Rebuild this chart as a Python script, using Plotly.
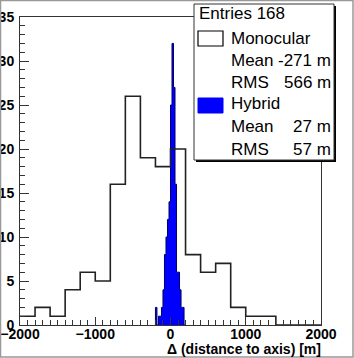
import numpy as np
import plotly.graph_objects as go

# monocular histogram, 200 m bins from -2000 to 2000
mono_edges_start = -2000
mono_width = 200
mono_counts = [1, 2, 1, 4, 6, 5, 16, 26, 19, 18,
               20, 8, 6, 7, 2, 1, 1, 0, 0, 0]

# hybrid histogram, 20 m bins from -200 to 200
hyb_edges_start = -200
hyb_width = 20
hyb_counts = [2, 0, 1, 1, 2, 4, 8, 10, 12, 14,
              25, 32, 27, 16, 6, 6, 4, 2, 2, 0]

legend_lines = [
    ("Entries 168", None),
    ("Monocular", None),
    ("Mean", "-271 m"),
    ("RMS", "566 m"),
    ("Hybrid", None),
    ("Mean", "27 m"),
    ("RMS", "57 m"),
]

x_title = "\u0394 (distance to axis) [m]"

W, H = 354, 358
L, R, T, B = 20, 321, 17, 325  # plot area in pixels


def px(x):
    return (x - L) / (R - L)


def py(y):
    return (B - y) / (B - T)


fig = go.Figure()

# hybrid: filled step histogram
hx = hyb_edges_start + hyb_width * np.arange(len(hyb_counts) + 1)
hx = np.concatenate([[hx[0]], hx])
hy = [0] + list(hyb_counts) + [0]
fig.add_trace(go.Scatter(
    x=hx, y=hy, mode="lines", line_shape="hv",
    fill="tozeroy", fillcolor="#0000ff",
    line=dict(color="#000066", width=1), hoverinfo="skip"))

# monocular: outline step histogram
mx = mono_edges_start + mono_width * np.arange(len(mono_counts) + 1)
my = list(mono_counts) + [mono_counts[-1]]
fig.add_trace(go.Scatter(
    x=mx, y=my, mode="lines", line_shape="hv",
    line=dict(color="#222222", width=1.6), hoverinfo="skip"))

font_tick = dict(family="Liberation Sans, Arial", size=14, color="black", weight="bold")

fig.update_xaxes(
    range=[-2000, 2000], showgrid=False, zeroline=False, automargin=False,
    showline=True, linecolor="#333333", linewidth=1, mirror=True,
    ticks="inside", dtick=1000, tick0=0, ticklen=8, tickcolor="#333333",
    minor=dict(dtick=100, ticklen=5, ticks="inside", tickcolor="#333333"),
    tickfont=font_tick, ticklabelstandoff=-4,
)
fig.update_yaxes(
    range=[0, 35], showgrid=False, zeroline=False, automargin=False,
    showline=True, linecolor="#333333", linewidth=1, mirror=True,
    ticks="inside", dtick=5, tick0=0, ticklen=9, tickcolor="#333333",
    minor=dict(dtick=1, ticklen=5, ticks="inside", tickcolor="#333333"),
    tickfont=font_tick, ticklabelstandoff=2,
)

shapes = []
# outer canvas frame
shapes.append(dict(type="rect", xref="paper", yref="paper",
                   x0=px(0.5), x1=px(W - 1), y0=py(H - 1), y1=py(0.5),
                   line=dict(color="#999999", width=1.5)))
# legend shadow + box
shapes.append(dict(type="rect", xref="paper", yref="paper",
                   x0=px(196), x1=px(336), y0=py(162), y1=py(6),
                   fillcolor="black", line=dict(width=0)))
shapes.append(dict(type="rect", xref="paper", yref="paper",
                   x0=px(194), x1=px(334), y0=py(160), y1=py(4),
                   fillcolor="white", line=dict(color="#333333", width=1)))
# legend symbols
shapes.append(dict(type="rect", xref="paper", yref="paper",
                   x0=px(198), x1=px(223), y0=py(46), y1=py(31),
                   fillcolor="white", line=dict(color="black", width=1.2)))
shapes.append(dict(type="rect", xref="paper", yref="paper",
                   x0=px(198), x1=px(223), y0=py(113), y1=py(98),
                   fillcolor="#0000ff", line=dict(color="#0000ff", width=1)))

font_leg = dict(family="Liberation Sans, Arial", size=17, color="black")
line_y = [14, 38, 60, 82, 104, 127, 149]
annotations = []
for (label, value), yy in zip(legend_lines, line_y):
    x_left = 197 if label.startswith("Entries") else 229
    annotations.append(dict(text=label, xref="paper", yref="paper",
                            x=px(x_left), y=py(yy), xanchor="left", yanchor="middle",
                            showarrow=False, font=font_leg))
    if value:
        annotations.append(dict(text=value, xref="paper", yref="paper",
                                x=px(333), y=py(yy), xanchor="right", yanchor="middle",
                                showarrow=False, font=font_leg))

annotations.append(dict(text=x_title, xref="paper", yref="paper",
                        x=px(323), y=py(349), xanchor="right", yanchor="middle",
                        showarrow=False, font=font_tick))

fig.update_layout(
    width=W, height=H,
    margin=dict(l=L, r=W - R, t=T, b=H - B),
    paper_bgcolor="white", plot_bgcolor="white",
    showlegend=False,
    shapes=shapes, annotations=annotations,
)

# drop the default page margin so the figure sits at the window corner
fig.write_html("out.html", config={"displayModeBar": False},
               post_script="document.body.style.margin='0';")
